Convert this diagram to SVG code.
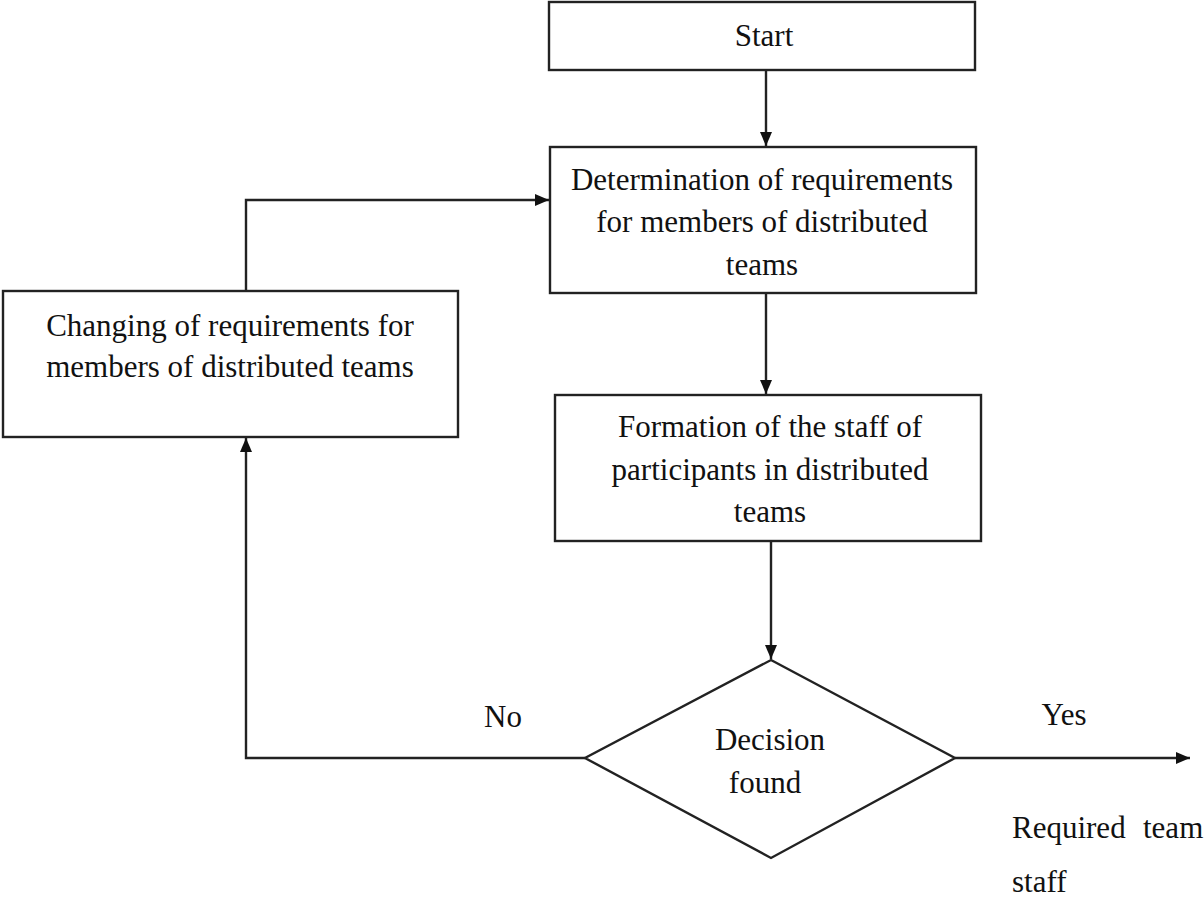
<svg xmlns="http://www.w3.org/2000/svg" width="1204" height="899" viewBox="0 0 1204 899">
  <style>
    .box { fill: #ffffff; stroke: #222222; stroke-width: 2.4; }
    .line { fill: none; stroke: #222222; stroke-width: 2.4; }
    .label { font-family: 'Liberation Serif', 'Tinos', 'DejaVu Serif', serif; font-size: 31px; fill: #111111; }
    .mid { text-anchor: middle; }
  </style>
  <defs>
    <marker id="arrow" viewBox="0 0 14 12" refX="14" refY="6" markerWidth="14" markerHeight="12" markerUnits="userSpaceOnUse" orient="auto">
      <path d="M0,0 L14,6 L0,12 Z" fill="#111111"/>
    </marker>
  </defs>
  <rect width="1204" height="899" fill="#ffffff"/>

  <g id="connectors">
    <line class="line" x1="766" y1="70" x2="766" y2="146" marker-end="url(#arrow)"/>
    <line class="line" x1="766" y1="293" x2="766" y2="394" marker-end="url(#arrow)"/>
    <line class="line" x1="771" y1="541" x2="771" y2="659" marker-end="url(#arrow)"/>
    <polyline class="line" points="585,758 246,758 246,438" marker-end="url(#arrow)"/>
    <polyline class="line" points="246,291 246,200 549,200" marker-end="url(#arrow)"/>
    <line class="line" x1="955" y1="758" x2="1190" y2="758" marker-end="url(#arrow)"/>
  </g>

  <g id="start">
    <rect class="box" x="549" y="2" width="426" height="68"/>
    <text class="label mid" x="764" y="46">Start</text>
  </g>

  <g id="determine">
    <rect class="box" x="550" y="147" width="426" height="146"/>
    <text class="label mid" x="762" y="190">Determination of requirements</text>
    <text class="label mid" x="762" y="232">for members of distributed</text>
    <text class="label mid" x="762" y="275">teams</text>
  </g>

  <g id="change">
    <rect class="box" x="3" y="291" width="455" height="146"/>
    <text class="label mid" x="230" y="336">Changing of requirements for</text>
    <text class="label mid" x="230" y="377">members of distributed teams</text>
  </g>

  <g id="formation">
    <rect class="box" x="555" y="395" width="426" height="146"/>
    <text class="label mid" x="770" y="437">Formation of the staff of</text>
    <text class="label mid" x="770" y="480">participants in distributed</text>
    <text class="label mid" x="770" y="522">teams</text>
  </g>

  <g id="decision">
    <polygon class="box" points="771,660 955,758 771,858 585,758"/>
    <text class="label mid" x="770" y="750">Decision</text>
    <text class="label mid" x="765" y="793">found</text>
  </g>

  <g id="branch-labels">
    <text class="label mid" x="503" y="727">No</text>
    <text class="label mid" x="1064" y="725">Yes</text>
  </g>

  <g id="result">
    <text class="label" x="1012" y="838">Required</text>
    <text class="label" x="1143" y="838">team</text>
    <text class="label" x="1012" y="892">staff</text>
  </g>
</svg>
